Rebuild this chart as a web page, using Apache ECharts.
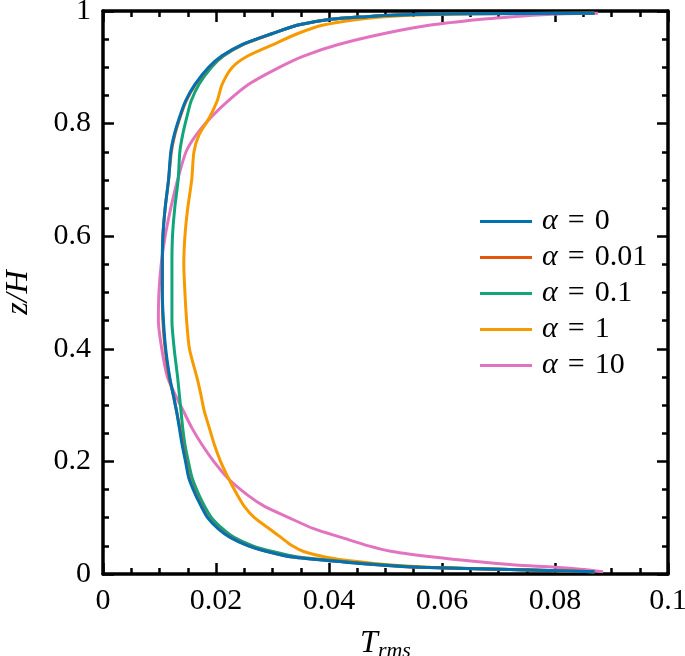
<!DOCTYPE html>
<html>
<head>
<meta charset="utf-8">
<script src="https://cdn.jsdelivr.net/npm/echarts@6/dist/echarts.min.js"></script>
<style>
  html, body {margin: 0; padding: 0; background: #fff;}
  #chart {width: 685px; height: 656px;}
</style>
</head>
<body>
<div id="chart"></div>
<script>
// height z/H shared by all profiles
const zLevels = [0.004, 0.008, 0.012, 0.016, 0.022, 0.03, 0.04, 0.05, 0.065, 0.08,
  0.1, 0.12, 0.14, 0.17, 0.2, 0.23, 0.26, 0.29, 0.32, 0.35,
  0.4, 0.45, 0.5, 0.55, 0.6, 0.65, 0.7, 0.75, 0.78, 0.81,
  0.84, 0.87, 0.9, 0.92, 0.94, 0.96, 0.975, 0.985, 0.99, 0.993, 0.995, 0.996];

// T_rms profiles, one per alpha
const tAlpha0 = [0.087, 0.072, 0.056, 0.049, 0.042, 0.0335, 0.029, 0.0257, 0.0225, 0.0204,
  0.0185, 0.0174, 0.0164, 0.0152, 0.0146, 0.0140, 0.0135, 0.0130, 0.0124, 0.0118,
  0.0111, 0.0107, 0.0105, 0.0105, 0.0106, 0.0110, 0.0116, 0.0120, 0.0126, 0.0135,
  0.0146, 0.0163, 0.0187, 0.0210, 0.0245, 0.0300, 0.0345, 0.0400, 0.0466, 0.052, 0.062, 0.087];
const tAlpha001 = [0.087, 0.072, 0.056, 0.049, 0.042, 0.0336, 0.0291, 0.0258, 0.0226, 0.0205,
  0.0186, 0.0175, 0.0165, 0.0153, 0.0147, 0.0141, 0.0136, 0.0130, 0.0124, 0.0117,
  0.0110, 0.0106, 0.0105, 0.0105, 0.0106, 0.0110, 0.0116, 0.0121, 0.0127, 0.0136,
  0.0147, 0.0164, 0.0188, 0.0211, 0.0246, 0.0300, 0.0345, 0.0400, 0.0466, 0.052, 0.062, 0.087];
const tAlpha01 = [0.087, 0.072, 0.057, 0.050, 0.043, 0.0345, 0.030, 0.0265, 0.0232, 0.0212,
  0.0192, 0.0180, 0.0170, 0.0158, 0.0151, 0.0145, 0.0141, 0.0138, 0.0135, 0.0132,
  0.0126, 0.0122, 0.0122, 0.0122, 0.0123, 0.0127, 0.0133, 0.0136, 0.0141, 0.0148,
  0.0156, 0.0170, 0.0192, 0.0213, 0.0247, 0.0300, 0.0345, 0.0400, 0.0466, 0.052, 0.062, 0.087];
const tAlpha1 = [0.087, 0.072, 0.058, 0.051, 0.045, 0.0395, 0.0355, 0.0335, 0.0315, 0.0295,
  0.0268, 0.0250, 0.0238, 0.0222, 0.0208, 0.0197, 0.0188, 0.0179, 0.0173, 0.0166,
  0.0153, 0.0148, 0.0145, 0.0143, 0.0145, 0.0150, 0.0157, 0.0161, 0.0170, 0.0188,
  0.0202, 0.0211, 0.0229, 0.0256, 0.0300, 0.0345, 0.0390, 0.0450, 0.0500, 0.056, 0.065, 0.087];
const tAlpha10 = [0.0885, 0.085, 0.080, 0.073, 0.066, 0.0585, 0.0512, 0.047, 0.0422, 0.0374,
  0.0329, 0.0286, 0.0256, 0.0221, 0.0196, 0.0175, 0.0157, 0.0142, 0.0127, 0.0114,
  0.0104, 0.0098, 0.0099, 0.0103, 0.0110, 0.0120, 0.0132, 0.0147, 0.0165, 0.0190,
  0.0221, 0.0258, 0.0312, 0.0355, 0.0415, 0.0498, 0.0580, 0.0665, 0.0725, 0.077, 0.082, 0.0876];

const alphaLabels = ['0', '0.01', '0.1', '1', '10'];
const profiles = [tAlpha0, tAlpha001, tAlpha01, tAlpha1, tAlpha10];
const colors = ['#0072B2', '#E4560C', '#10A57A', '#F79A00', '#E273BF'];

const xTicks = {min: 0, max: 0.1, interval: 0.02};
const yTicks = {min: 0, max: 1, interval: 0.2};

const serif = '"Liberation Serif", serif';

const chart = echarts.init(document.getElementById('chart'));

const axisCommon = {
  axisLine: {show: true, onZero: false, lineStyle: {color: '#000', width: 3.5}},
  axisTick: {show: true, inside: true, length: 11, lineStyle: {color: '#000', width: 2.5}},
  minorTick: {show: true, splitNumber: 4, length: 6, lineStyle: {color: '#000', width: 2.5}},
  splitLine: {show: false},
  axisLabel: {color: '#000', fontFamily: serif, fontSize: 30, margin: 12}
};

const names = alphaLabels.map(a => 'α = ' + a);

const series = profiles.map((vals, i) => ({
  name: names[i],
  type: 'line',
  data: vals.map((t, k) => [t, zLevels[k]]),
  showSymbol: false,
  smooth: 0.25,
  color: colors[i],
  lineStyle: {width: 3, color: colors[i]},
  z: 10 - i
}));

const option = {
  animation: false,
  backgroundColor: '#fff',
  grid: {left: 103, right: 17, top: 11, bottom: 82, outerBoundsMode: 'none'},
  legend: {
    orient: 'vertical',
    left: 475,
    top: 201,
    itemWidth: 52,
    itemHeight: 3,
    itemGap: 5,
    icon: 'rect',
    data: names,
    formatter: (name) => name.replace('α', '{i|α}').replace(' = ', '\u2004=\u2004'),
    textStyle: {
      color: '#000',
      fontFamily: serif,
      fontSize: 30,
      lineHeight: 31,
      padding: [0, 0, 0, 5],
      rich: {i: {fontStyle: 'italic', fontFamily: serif, fontSize: 30}}
    }
  },
  xAxis: [
    Object.assign({}, axisCommon, {
      type: 'value', position: 'bottom', ...xTicks,
      name: '{t|T}{s|rms}',
      nameLocation: 'middle',
      nameGap: 52,
      nameTextStyle: {
        rich: {
          t: {fontFamily: serif, fontStyle: 'italic', fontSize: 32, color: '#000'},
          s: {fontFamily: serif, fontStyle: 'italic', fontSize: 22, color: '#000', verticalAlign: 'bottom', padding: [14, 0, 0, 0]}
        }
      }
    }),
    Object.assign({}, axisCommon, {
      type: 'value', position: 'top', ...xTicks,
      axisLabel: {show: false}
    })
  ],
  yAxis: [
    Object.assign({}, axisCommon, {
      type: 'value', position: 'left', ...yTicks,
      name: 'z/H',
      nameLocation: 'middle',
      nameGap: 68,
      nameTextStyle: {fontFamily: serif, fontStyle: 'italic', fontSize: 32, color: '#000'}
    }),
    Object.assign({}, axisCommon, {
      type: 'value', position: 'right', ...yTicks,
      axisLabel: {show: false}
    })
  ],
  series: series
};

chart.setOption(option);
</script>
</body>
</html>
